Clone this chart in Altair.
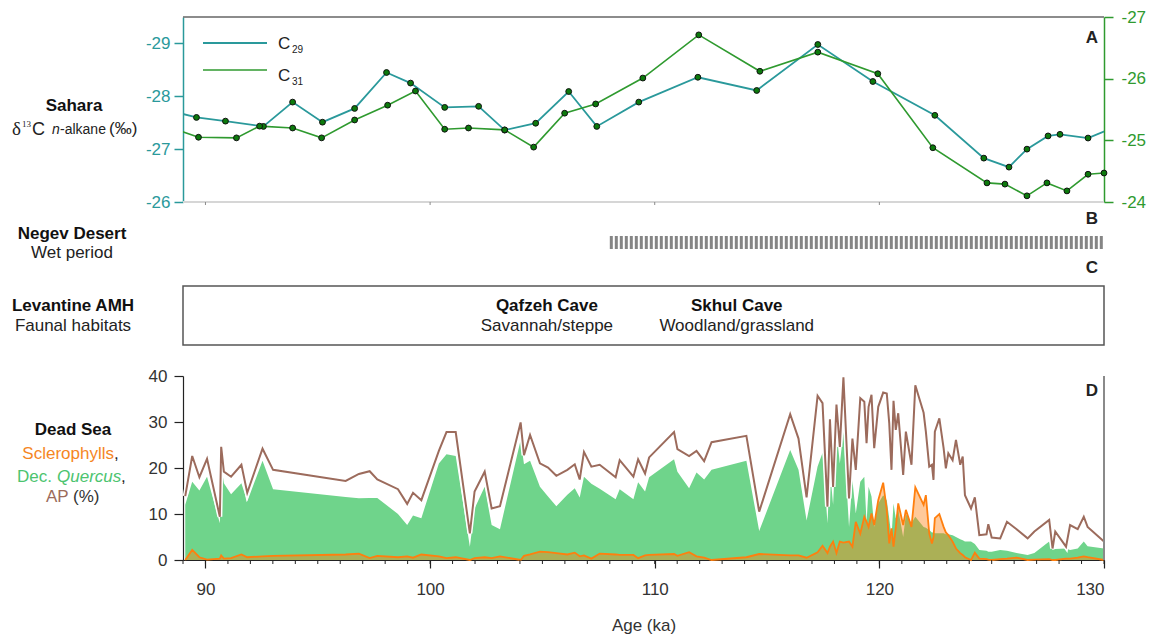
import altair as alt
import pandas as pd

# ---------------- Panel A: Sahara delta13C n-alkane ----------------
c29_age = [88.5, 89.60, 90.89, 92.58, 93.88, 95.21, 96.64, 98.06, 99.13, 100.65, 102.16, 103.32,
           104.70, 106.17, 107.42, 109.29, 111.92, 114.54, 117.26, 119.71, 122.47, 124.65, 125.77,
           126.57, 127.51, 128.04, 129.29, 130.5]
c29_val = [-27.72, -27.60, -27.53, -27.43, -27.89, -27.51, -27.77, -28.45, -28.25, -27.79, -27.81, -27.36,
           -27.49, -28.09, -27.43, -27.89, -28.36, -28.11, -28.98, -28.28, -27.64, -26.83, -26.66,
           -27.00, -27.25, -27.28, -27.21, -27.42]
c31_age = [88.5, 89.69, 91.38, 92.41, 93.88, 95.17, 96.64, 98.11, 99.35, 100.65, 101.71, 103.32,
           104.61, 105.99, 107.37, 109.47, 111.96, 114.68, 117.26, 119.93, 122.38, 124.79, 125.59,
           126.57, 127.46, 128.35, 129.29, 130.0]
c31_val = [-25.20, -25.05, -25.04, -25.23, -25.20, -25.04, -25.33, -25.57, -25.80, -25.18, -25.20, -25.17,
           -24.89, -25.44, -25.59, -26.01, -26.71, -26.12, -26.43, -26.08, -24.88, -24.31, -24.29,
           -24.10, -24.31, -24.18, -24.45, -24.47]

# ---------------- Panel B: Negev wet period ----------------
wet_start = [108.0]
wet_end = [130.0]

# ---------------- Panel C: Levantine caves ----------------
cave_names = ["Qafzeh Cave", "Skhul Cave"]
cave_habitats = ["Savannah/steppe", "Woodland/grassland"]
cave_age = [105.2, 113.65]

# ---------------- Panel D: Dead Sea pollen (%) ----------------
d_age = [89.10, 89.41, 89.73, 90.07, 90.64, 90.70, 90.82, 91.14, 91.60, 91.86,
         92.54, 93.01, 96.24, 96.83, 97.31, 97.65, 98.57, 98.98, 99.24, 99.61,
         100.39, 100.73, 101.14, 101.77, 101.98, 102.43, 102.74, 103.11, 104.03, 104.18,
         104.45, 104.89, 105.25, 105.62, 106.11, 106.44, 106.66, 106.85, 107.18, 107.55,
         108.26, 108.44, 109.05, 109.26, 109.57, 109.75, 110.86, 111.01, 111.53, 111.86,
         112.20, 112.53, 114.08, 114.65, 116.03, 116.40, 116.76, 117.25, 117.47, 117.69,
         117.80, 117.94, 118.09, 118.24, 118.40, 118.65, 118.80, 118.95, 119.15, 119.33,
         119.43, 119.52, 119.65, 119.77, 119.95, 120.17, 120.33, 120.44, 120.54, 120.63,
         120.73, 120.84, 121.06, 121.18, 121.43, 121.60, 121.97, 122.07, 122.22, 122.34,
         122.41, 122.47, 122.67, 122.86, 122.96, 123.07, 123.26, 123.41, 123.60, 123.71,
         123.81, 124.08, 124.25, 124.45, 124.77, 124.85, 125.00, 125.38, 125.68, 126.11,
         126.60, 126.90, 127.56, 127.71, 127.83, 128.31, 128.49, 128.83, 129.10, 129.27, 130.00]
ap = [13.9, 22.6, 18.0, 22.0, 9.4, 24.6, 19.2, 18.1, 20.7, 14.6,
      24.2, 19.6, 17.2, 18.7, 19.3, 17.5, 15.4, 12.2, 14.6, 13.0,
      23.7, 27.8, 27.8, 5.8, 14.9, 19.2, 11.2, 11.7, 29.9, 22.8,
      27.2, 21.0, 20.1, 18.3, 19.6, 20.8, 17.5, 23.5, 20.3, 20.7,
      18.0, 21.7, 18.1, 21.9, 18.8, 22.3, 27.8, 24.1, 22.6, 23.7,
      21.5, 25.6, 27.0, 10.5, 31.7, 26.4, 13.6, 35.7, 34.1, 11.6,
      30.6, 15.9, 33.8, 24.6, 39.7, 13.4, 26.4, 19.6, 35.2, 34.4,
      25.4, 33.3, 35.9, 24.3, 33.3, 36.4, 36.2, 29.7, 19.6, 34.6,
      28.3, 31.9, 18.5, 27.9, 20.7, 38.0, 32.0, 27.9, 20.3, 20.7,
      17.4, 27.9, 30.8, 24.3, 19.9, 23.2, 21.7, 26.1, 20.7, 22.5,
      14.1, 11.2, 13.6, 5.4, 5.6, 7.8, 4.9, 4.7, 8.3, 6.7,
      4.7, 6.2, 8.7, 2.5, 6.2, 2.9, 7.6, 6.7, 9.4, 7.2, 4.0]
quercus = [12.0, 17.0, 15.1, 18.1, 8.0, 20.7, 16.7, 14.3, 16.7, 12.7,
           21.6, 15.4, 13.7, 13.4, 13.5, 13.5, 10.0, 7.6, 9.7, 9.1,
           21.0, 23.0, 22.6, 2.9, 11.2, 15.9, 7.6, 6.7, 26.1, 20.8,
           21.6, 15.9, 13.8, 11.7, 14.2, 15.6, 13.6, 18.1, 16.6, 15.5,
           13.2, 15.4, 13.2, 16.9, 14.9, 18.0, 21.9, 19.2, 15.6, 19.0,
           17.5, 19.6, 21.6, 6.3, 23.9, 19.6, 8.6, 20.3, 23.3, 8.0,
           19.6, 12.0, 28.0, 21.0, 27.9, 7.2, 17.4, 10.1, 17.0, 18.1,
           8.0, 15.9, 13.8, 7.2, 12.3, 14.1, 13.0, 9.0, 5.0, 12.3,
           9.0, 11.0, 5.0, 10.0, 8.0, 9.4, 7.2, 7.0, 6.5, 6.0,
           6.0, 5.8, 5.8, 5.8, 5.6, 5.6, 5.4, 5.0, 4.5, 4.3,
           4.0, 4.0, 3.5, 2.2, 2.0, 1.8, 1.8, 2.2, 2.0, 1.5,
           1.1, 1.5, 4.0, 2.2, 2.4, 2.5, 2.2, 2.5, 4.0, 3.0, 2.5]
scleroph = [0.0, 2.2, 0.6, 0.1, 0.3, 1.0, 0.3, 0.4, 1.2, 0.6,
            0.8, 0.9, 1.2, 1.4, 0.4, 0.9, 0.6, 0.8, 0.5, 1.2,
            0.8, 0.4, 0.6, 0.0, 0.4, 0.6, 0.4, 0.8, 0.0, 0.9,
            1.2, 1.8, 1.7, 1.5, 1.2, 1.6, 0.8, 1.0, 0.3, 1.4,
            1.2, 1.1, 1.1, 0.4, 1.0, 1.1, 1.3, 0.9, 1.7, 0.8,
            0.5, 0.0, 0.6, 1.3, 1.0, 1.0, 0.5, 1.7, 3.1, 1.5,
            2.9, 4.0, 1.5, 4.0, 3.8, 4.0, 2.9, 8.3, 5.7, 9.4,
            8.3, 7.2, 10.1, 7.6, 13.0, 16.8, 10.9, 3.6, 6.9, 2.9,
            7.0, 12.3, 7.6, 10.9, 7.2, 15.8, 12.0, 14.1, 5.8, 3.6,
            5.0, 9.1, 10.0, 7.2, 6.0, 5.4, 4.0, 2.5, 1.5, 1.1,
            0.6, 0.0, 1.6, 0.3, 0.2, 0.1, 0.0, 0.2, 0.3, 0.5,
            0.0, 0.1, 0.2, 0.0, 0.0, 0.3, 0.3, 0.5, 0.8, 0.6, 0.0]

# ---------------- axes ticks ----------------
x_domain = [89.0, 130.0]
x_ticks = [90, 100, 110, 120, 130]
x_minor = list(range(89, 131))
ya_left_ticks = [-29, -28, -27, -26]
ya_right_ticks = [-27, -26, -25, -24]
yd_ticks = [0, 10, 20, 30, 40]

# ---------------- styling ----------------
FONT = "Liberation Sans"
TEAL = "#2a999b"
GRN = "#2f9a2f"
DOT = "#0c7a0c"
QGREEN = "#6fd48b"
BROWN = "#9c6b5c"
ORANGE = "#ff7f0e"
DARK = "#222222"
W, H = 921, 543

XS = alt.Scale(domain=x_domain, nice=False, zero=False)
X_AXIS = alt.Axis(values=x_ticks, title="Age (ka)", tickSize=8, labelPadding=13, labelFontSize=17,
                  titleFontSize=17, titleFontWeight="normal", titlePadding=20, domainColor=DARK,
                  tickColor=DARK, labelColor="#333333", titleColor="#333333", grid=False,
                  labelFont=FONT, titleFont=FONT, domainWidth=1.2, tickWidth=1.2)


def X(field):
    return alt.X(f"{field}:Q", scale=XS, axis=X_AXIS)


def X2(field):
    return alt.X2(f"{field}:Q")


YS29 = alt.Scale(domain=[-29.5, -26], range=[0, 185], nice=False, zero=False)
YS31 = alt.Scale(domain=[-27, -24], range=[0, 185], nice=False, zero=False)
YSD = alt.Scale(domain=[0, 40], range=[H, 359], nice=False, zero=False)

YA_L = alt.Axis(orient="left", values=ya_left_ticks, title=None, tickSize=9, labelPadding=4,
                labelFontSize=17, labelFont=FONT, labelColor=TEAL, domainColor=TEAL, tickColor=TEAL,
                domainWidth=1.5, tickWidth=1.5, grid=False, labelExpr="'-' + abs(datum.value)")
YA_R = alt.Axis(orient="right", values=ya_right_ticks, title=None, tickSize=9, labelPadding=8,
                labelFontSize=17, labelFont=FONT, labelColor=GRN, domainColor=GRN, tickColor=GRN,
                domainWidth=1.5, tickWidth=1.5, grid=False, labelExpr="'-' + abs(datum.value)")
YD = alt.Axis(orient="left", values=yd_ticks, title=None, tickSize=9, labelPadding=7,
              labelFontSize=17, labelFont=FONT, labelColor="#333333", domainColor=DARK, tickColor=DARK,
              domainWidth=1.2, tickWidth=1.2, grid=False)

ONE = pd.DataFrame({"k": [0]})


def txt(s, x, y, size=17, weight="normal", color=DARK, align="center", style="normal",
        font=FONT, baseline="middle"):
    return alt.Chart(ONE).mark_text(text=s, fontSize=size, fontWeight=weight, color=color,
                                    align=align, fontStyle=style, font=font, baseline=baseline
                                    ).encode(x=alt.value(x), y=alt.value(y))


layers = []

# ---- Panel A ----
df29 = pd.DataFrame({"age": c29_age, "v": c29_val})
df31 = pd.DataFrame({"age": c31_age, "v": c31_val})
frame = pd.DataFrame({"a": [x_domain[0]], "b": [x_domain[1]]})

layers.append(alt.Chart(frame).mark_rule(color="#666666", strokeWidth=1.5)
              .encode(x=X("a"), x2=X2("b"), y=alt.value(0)))
layers.append(alt.Chart(frame).mark_rule(color="#d6d6d6", strokeWidth=2)
              .encode(x=X("a"), x2=X2("b"), y=alt.value(185)))
layers.append(alt.Chart(pd.DataFrame({"t": x_ticks[:-1]})).mark_rule(color="#8a8a8a", strokeWidth=1)
              .encode(x=X("t"), y=alt.value(185), y2=alt.value(188)))

layers.append(alt.Chart(df29).mark_line(color=TEAL, strokeWidth=1.8, clip=True)
              .encode(x=X("age"), y=alt.Y("v:Q", scale=YS29, axis=YA_L)))
layers.append(alt.Chart(df31).mark_line(color=GRN, strokeWidth=1.6, clip=True)
              .encode(x=X("age"), y=alt.Y("v:Q", scale=YS31, axis=YA_R)))
layers.append(alt.Chart(df29).transform_filter("datum.age >= 89 && datum.age <= 130")
              .mark_circle(fill=DOT, stroke="#111111", strokeWidth=1, size=34, opacity=1)
              .encode(x=X("age"), y=alt.Y("v:Q", scale=YS29, axis=None)))
layers.append(alt.Chart(df31).transform_filter("datum.age >= 89 && datum.age <= 130")
              .mark_circle(fill=DOT, stroke="#111111", strokeWidth=1, size=34, opacity=1)
              .encode(x=X("age"), y=alt.Y("v:Q", scale=YS31, axis=None)))

# legend
layers.append(alt.Chart(ONE).mark_rule(color=TEAL, strokeWidth=2)
              .encode(x=alt.value(20), x2=alt.value(84), y=alt.value(26)))
layers.append(alt.Chart(ONE).mark_rule(color=GRN, strokeWidth=1.6)
              .encode(x=alt.value(20), x2=alt.value(84), y=alt.value(53)))
layers.append(txt("C", 95, 32, size=17, align="left", baseline="alphabetic"))
layers.append(txt("29", 109, 36, size=10, align="left", baseline="alphabetic"))
layers.append(txt("C", 95, 64, size=17, align="left", baseline="alphabetic"))
layers.append(txt("31", 109, 68, size=10, align="left", baseline="alphabetic"))
layers.append(txt("A", 909, 21, weight="bold"))

# left label A
layers.append(txt("Sahara", -109, 89, weight="bold", color="#111111"))
layers.append(txt("δ", -171, 118, size=19, align="left", baseline="alphabetic", font="Liberation Serif"))
layers.append(txt("13", -161, 110, size=9, align="left", baseline="alphabetic", font="Liberation Serif"))
layers.append(txt("C", -151, 118, size=18, align="left", baseline="alphabetic"))
layers.append(txt("n", -131, 117, size=14, align="left", baseline="alphabetic", style="italic"))
layers.append(txt("-alkane", -123, 117, size=14, align="left", baseline="alphabetic"))
layers.append(txt("(‰)", -74, 117, size=17, align="left", baseline="alphabetic"))

# ---- Panel B ----
dfb = pd.DataFrame({"s": wet_start, "e": wet_end})
layers.append(alt.Chart(dfb).mark_rule(color="#858585", strokeWidth=13, strokeDash=[3, 2])
              .encode(x=X("s"), x2=X2("e"), y=alt.value(225.5)))
layers.append(txt("Negev Desert", -111, 217, weight="bold", color="#111111"))
layers.append(txt("Wet period", -111, 236))
layers.append(txt("B", 909, 202, weight="bold"))

# ---- Panel C ----
layers.append(alt.Chart(frame).mark_rect(fillOpacity=0, stroke="#555555", strokeWidth=1.5)
              .encode(x=X("a"), x2=X2("b"), y=alt.value(269), y2=alt.value(328)))
dfc = pd.DataFrame({"age": cave_age, "name": cave_names, "hab": cave_habitats})
layers.append(alt.Chart(dfc).mark_text(fontSize=17, fontWeight="bold", color="#111111", font=FONT)
              .encode(x=X("age"), y=alt.value(289), text="name:N"))
layers.append(alt.Chart(dfc).mark_text(fontSize=17, color=DARK, font=FONT)
              .encode(x=X("age"), y=alt.value(309), text="hab:N"))
layers.append(txt("Levantine AMH", -110, 289, weight="bold", color="#111111"))
layers.append(txt("Faunal habitats", -110, 309))
layers.append(txt("C", 909, 251, weight="bold"))

# ---- Panel D ----
dfd = pd.DataFrame({"age": d_age, "ap": ap, "que": quercus, "scl": scleroph})
layers.append(alt.Chart(dfd).mark_area(color=QGREEN, opacity=1)
              .encode(x=X("age"), y=alt.Y("que:Q", scale=YSD, axis=YD)))
layers.append(alt.Chart(dfd).mark_area(color=ORANGE, opacity=0.42)
              .encode(x=X("age"), y=alt.Y("scl:Q", scale=YSD, axis=None)))
layers.append(alt.Chart(dfd).mark_line(color="white", strokeWidth=5)
              .encode(x=X("age"), y=alt.Y("ap:Q", scale=YSD, axis=None)))
layers.append(alt.Chart(dfd).mark_line(color=ORANGE, strokeWidth=1.8)
              .encode(x=X("age"), y=alt.Y("scl:Q", scale=YSD, axis=None)))
layers.append(alt.Chart(dfd).mark_line(color=BROWN, strokeWidth=2)
              .encode(x=X("age"), y=alt.Y("ap:Q", scale=YSD, axis=None)))
layers.append(alt.Chart(pd.DataFrame({"t": x_minor})).mark_rule(color=DARK, strokeWidth=1)
              .encode(x=X("t"), y=alt.value(H), y2=alt.value(H + 4)))
layers.append(alt.Chart(pd.DataFrame({"b": [x_domain[1]]})).mark_rule(color="#8a8a8a", strokeWidth=2)
              .encode(x=X("b"), y=alt.value(359), y2=alt.value(H)))
layers.append(txt("D", 909, 374, weight="bold"))

layers.append(txt("Dead Sea", -110, 413, weight="bold", color="#111111"))
layers.append(txt("Sclerophylls", -69, 437, color="#f5861f", align="right"))
layers.append(txt(",", -69, 437, align="left"))
layers.append(txt("Dec.", -166, 460, color="#4cc46f", align="left"))
layers.append(txt("Quercus", -126, 460, color="#4cc46f", align="left", style="italic"))
layers.append(txt(",", -62, 460, align="left"))
layers.append(txt("AP", -137, 480, color=BROWN, align="left"))
layers.append(txt("(%)", -110, 480, color="#333333", align="left"))

chart = (alt.layer(*layers)
         .resolve_scale(y="independent")
         .properties(width=W, height=H, autosize=alt.AutoSizeParams(type="none"),
                     padding={"left": 183, "top": 17, "right": 47, "bottom": 77})
         .configure(font=FONT, background="white")
         .configure_view(stroke=None))

chart.save("out.html", embed_options={"renderer": "svg", "actions": False})
